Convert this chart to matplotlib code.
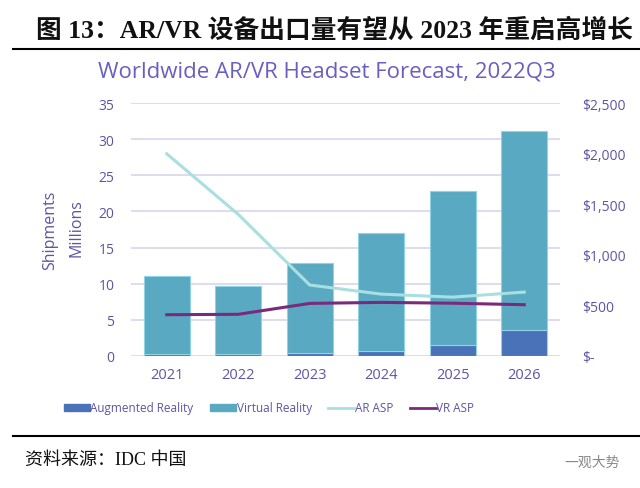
import matplotlib
matplotlib.use("Agg")
import matplotlib.pyplot as plt
import numpy as np
from matplotlib.patches import Patch
from matplotlib.lines import Line2D

years = ["2021", "2022", "2023", "2024", "2025", "2026"]
ar_ship = [0.2, 0.2, 0.4, 0.7, 1.5, 3.5]
vr_ship = [10.9, 9.5, 12.4, 16.3, 21.3, 27.6]
ar_asp = [2000, 1400, 700, 610, 580, 630]
vr_asp = [406, 410, 518, 528, 520, 505]
left_ticks = [0, 5, 10, 15, 20, 25, 30, 35]
right_ticks = [0, 500, 1000, 1500, 2000, 2500]
right_labels = ["$-", "$500", "$1,000", "$1,500", "$2,000", "$2,500"]

PURPLE = "#5c55a6"
VR_C = "#5aa9c2"
AR_C = "#4a72b8"
ARASP_C = "#a9dfe0"
VRASP_C = "#7a2a7c"
GRID_C = "#d9d5ee"

fig = plt.figure(figsize=(6.4, 4.89), dpi=100)
ax = fig.add_axes([131/640, 1-356.7/489, 429/640, 252.4/489])
x = np.arange(len(years))
ax.bar(x, ar_ship, width=0.64, color=AR_C, edgecolor="#8fd3e4", linewidth=0.8, zorder=3)
ax.bar(x, vr_ship, width=0.64, bottom=ar_ship, color=VR_C, edgecolor="#8fd3e4", linewidth=0.8, zorder=3)
ax.set_xlim(-0.5, 5.5)
ax.set_ylim(0, 35)
ax.set_yticks(left_ticks)
ax.set_xticks(x)
ax.set_xticklabels(years)
ax.grid(axis="y", color=GRID_C, linewidth=1.2, zorder=0)
ax.set_axisbelow(True)
for s in ax.spines.values():
    s.set_visible(False)
ax.tick_params(axis="both", length=0, colors=PURPLE, labelsize=10)
ax.tick_params(axis="x", pad=8, labelsize=10.5)
ax.tick_params(axis="y", pad=12)
for lab in ax.get_xticklabels() + ax.get_yticklabels():
    lab.set_fontfamily("Open Sans")

ax2 = ax.twinx()
ax2.set_ylim(0, 2500)
ax2.plot(x, ar_asp, color=ARASP_C, linewidth=2.2, zorder=5)
ax2.plot(x, vr_asp, color=VRASP_C, linewidth=2.2, zorder=5)
ax2.set_yticks(right_ticks)
ax2.set_yticklabels(right_labels)
for s in ax2.spines.values():
    s.set_visible(False)
ax2.tick_params(axis="y", length=0, colors=PURPLE, labelsize=10, pad=16)
for lab in ax2.get_yticklabels():
    lab.set_fontfamily("Open Sans")

fig.text(50/640, 1-230/489, "Shipments", rotation=90, ha="center", va="center",
         color=PURPLE, fontsize=11.5, family="Open Sans")
fig.text(77/640, 1-228/489, "Millions", rotation=90, ha="center", va="center",
         color=PURPLE, fontsize=11.5, family="Open Sans")

fig.text(327/640, 1-72/489, "Worldwide AR/VR Headset Forecast, 2022Q3", ha="center", va="center",
         color="#6a5fc0", fontsize=16, family="Open Sans")

fig.text(335/640, 1-30/489, "图 13：AR/VR 设备出口量有望从 2023 年重启高增长", ha="center", va="center",
         fontsize=18.5, fontweight="bold", family=["Liberation Serif", "Noto Sans CJK SC"], color="#111111")
fig.add_artist(Line2D([13/640, 1], [1-50/489, 1-50/489], color="black", linewidth=1.5))
fig.add_artist(Line2D([13/640, 1], [1-437/489, 1-437/489], color="black", linewidth=1.5))

handles = [Patch(color=AR_C), Patch(color=VR_C),
           Line2D([], [], color=ARASP_C, linewidth=2), Line2D([], [], color=VRASP_C, linewidth=2)]
labels = ["Augmented Reality", "Virtual Reality", "AR ASP", "VR ASP"]
leg = fig.legend(handles, labels, loc="center", bbox_to_anchor=(269/640, 1-409/489), ncol=4,
                 frameon=False, handlelength=2.2, handleheight=0.5, handletextpad=0.05, columnspacing=1.4,
                 prop={"family": "Open Sans", "size": 8.5})
for t in leg.get_texts():
    t.set_color(PURPLE)

fig.text(25/640, 1-460/489, "资料来源：IDC 中国", ha="left", va="center", fontsize=13,
         family=["Liberation Serif", "Noto Sans CJK SC"], color="#111111")
fig.text(620/640, 1-463/489, "一观大势", ha="right", va="center", fontsize=10,
         family=["Noto Sans CJK SC"], color="#888888")

fig.savefig("out.png", dpi=100)
